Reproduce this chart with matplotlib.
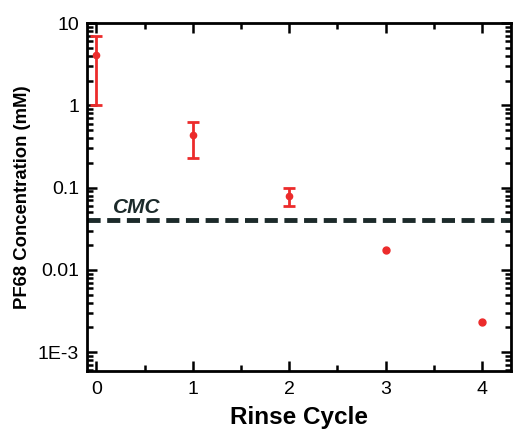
import matplotlib
matplotlib.use('Agg')
import matplotlib.pyplot as plt
from matplotlib.ticker import FixedLocator, LogLocator, NullFormatter, MultipleLocator

plt.rcParams['font.family'] = ['Liberation Sans', 'DejaVu Sans']

cycle = [0, 1, 2, 3, 4]
conc = [4.1, 0.43, 0.080, 0.0175, 0.00234]
err_hi = [6.9, 0.62, 0.099, None, None]
err_lo = [1.0, 0.226, 0.059, None, None]
cmc = 0.04
ytick_vals = [1e-3, 0.01, 0.1, 1, 10]
ytick_labels = ['1E-3', '0.01', '0.1', '1', '10']

fig = plt.figure(figsize=(5.13, 4.30), dpi=100)
ax = fig.add_axes([0.170, 0.137, 0.826, 0.8095])

red = '#ec2b2b'
# points with measured spread
n = sum(e is not None for e in err_hi)
yerr = [[conc[i] - err_lo[i] for i in range(n)], [err_hi[i] - conc[i] for i in range(n)]]
ax.errorbar(cycle[:n], conc[:n], yerr=yerr, fmt='o', color=red, ms=4.5,
            elinewidth=2, capsize=4, capthick=2, zorder=3)
ax.plot(cycle[n:], conc[n:], 'o', color=red, ms=5, zorder=3)

ax.axhline(cmc, color='#1c2a2a', lw=3.5, dashes=(2.7, 1.35))
ax.text(0.17, 0.058, 'CMC', fontsize=15, fontweight='bold', fontstyle='italic',
        color='#1c2a2a', va='center', ha='left')

ax.set_yscale('log')
ax.set_ylim(5.9e-4, 10)
ax.set_xlim(-0.095, 4.3)
ax.yaxis.set_major_locator(FixedLocator(ytick_vals))
ax.set_yticklabels(ytick_labels)
ax.yaxis.set_minor_locator(LogLocator(base=10, subs=range(2, 10)))
ax.yaxis.set_minor_formatter(NullFormatter())
ax.xaxis.set_major_locator(MultipleLocator(1))
ax.xaxis.set_minor_locator(MultipleLocator(0.5))

for s in ax.spines.values():
    s.set_linewidth(2)
ax.tick_params(which='both', direction='in', top=True, right=True, width=1.8, labelsize=14)
ax.tick_params(which='major', length=7)
ax.tick_params(which='minor', length=4)
ax.tick_params(axis='x', pad=7)
ax.tick_params(axis='y', pad=6)

ax.set_xlabel('Rinse Cycle', fontsize=17.5, fontweight='bold', labelpad=6)
ax.set_ylabel('PF68 Concentration (mM)', fontsize=13.3, fontweight='bold', labelpad=5)

fig.savefig('out.png', dpi=100)
